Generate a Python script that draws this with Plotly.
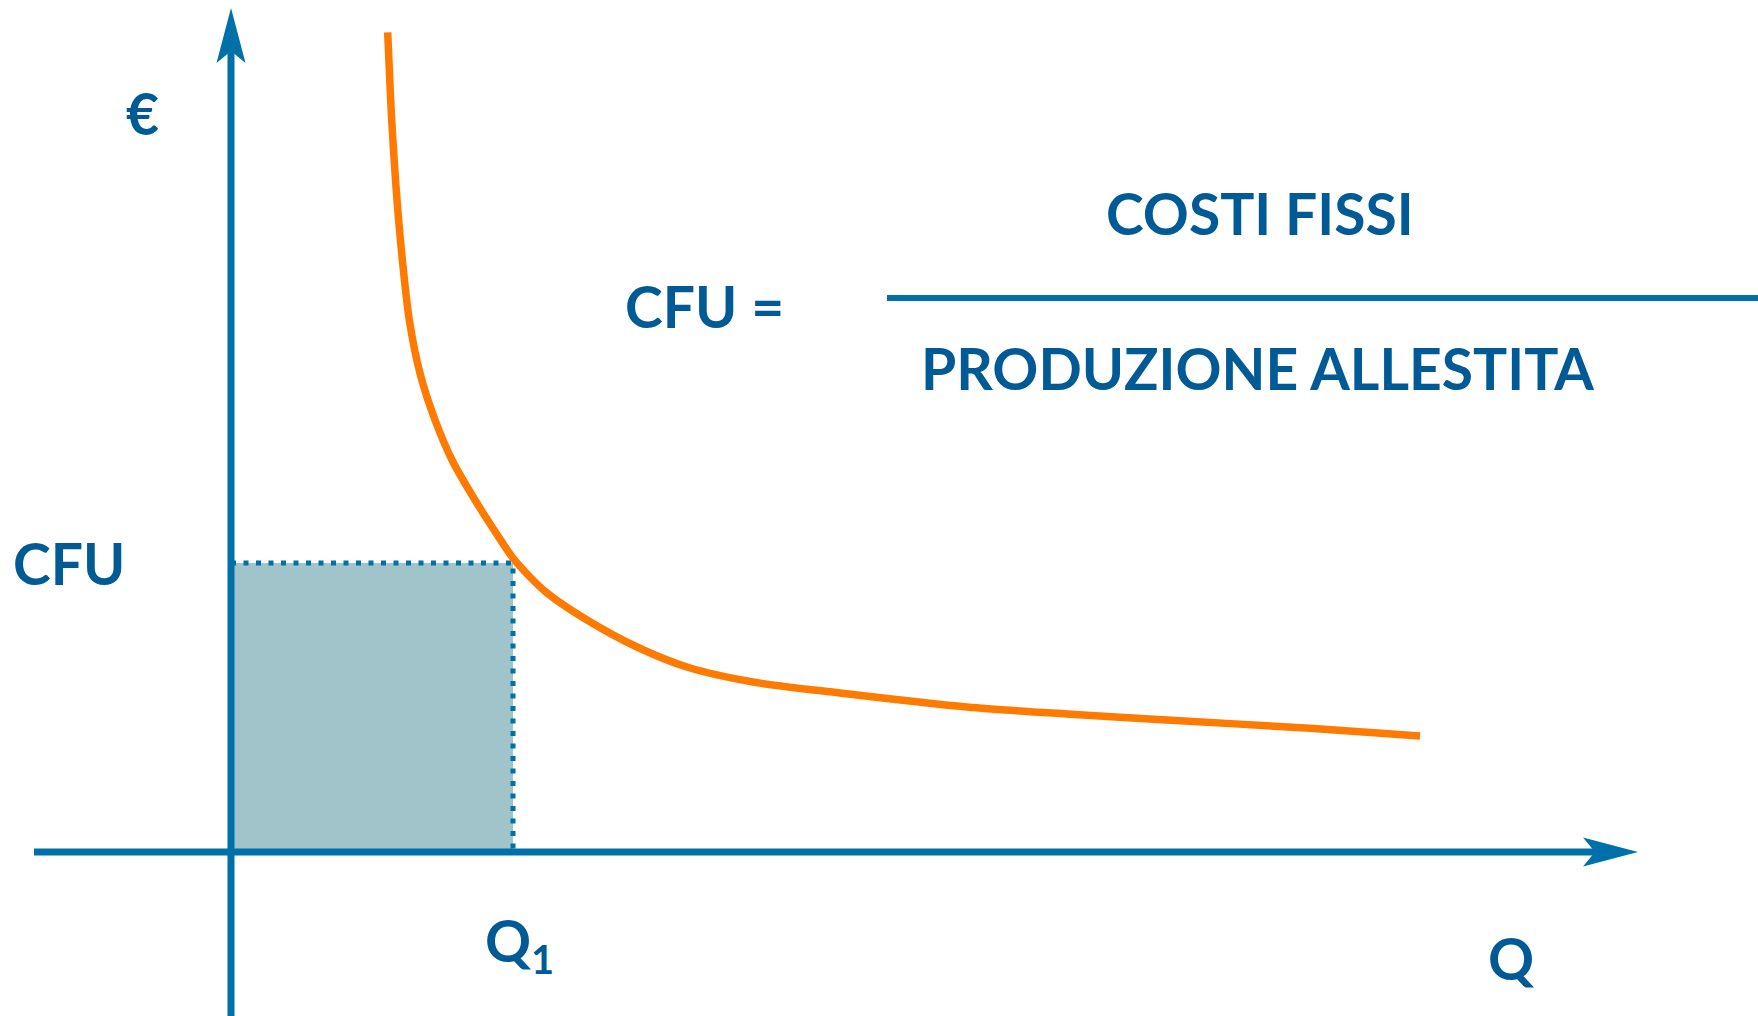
import plotly.graph_objects as go

# ---- data (arbitrary units: origin at axes crossing) ----
q_values = [156.7, 160.7, 165.0, 170.7, 178.3, 189.0, 204.0, 222.0, 244.0, 265.0, 282.0,
            299.0, 316.0, 356.0, 406.0, 456.0, 522.0, 609.0, 736.0, 836.0, 936.0, 1079.0, 1189.0]
cfu_values = [819.7, 732.0, 665.3, 598.7, 532.0, 478.7, 432.0, 390.0, 352.0, 319.0, 294.0,
              275.0, 259.0, 232.0, 205.0, 185.0, 170.0, 159.0, 145.0, 138.0, 132.0, 123.7, 116.0]
Q1 = 282.0
CFU1 = 289.0

axis_labels = {"y": "€", "x": "Q", "q1": "Q<sub>1</sub>", "cfu": "CFU"}
formula_left = "CFU ="
formula_num = "COSTI FISSI"
formula_den = "PRODUZIONE ALLESTITA"

# ---- layout / style ----
W, H = 1758, 1016
X_RANGE = [-231, 1527]
Y_RANGE = [-164, 852]
X_START, X_TIP = -197, 1407
Y_BOTTOM, Y_TIP = -200, 844

AXIS = "#0070A8"
TEXT = "#005A96"
FILL = "#A0C4CA"
CURVE = "#FF7A00"
FONT = "Lato"
FS = 57

fig = go.Figure()

# shaded area CFU x Q1
fig.add_trace(go.Scatter(x=[0, Q1, Q1, 0, 0], y=[0, 0, CFU1, CFU1, 0], fill="toself",
                         fillcolor=FILL, line=dict(width=0), mode="lines", hoverinfo="skip"))
# dotted guide lines
fig.add_trace(go.Scatter(x=[0, Q1, Q1], y=[CFU1, CFU1, 0], mode="lines",
                         line=dict(color=AXIS, width=5, dash="5px,7.5px"), hoverinfo="skip"))
# axes
fig.add_trace(go.Scatter(x=[X_START, X_TIP - 40], y=[0, 0], mode="lines",
                         line=dict(color=AXIS, width=7), hoverinfo="skip"))
fig.add_trace(go.Scatter(x=[0, 0], y=[Y_BOTTOM, Y_TIP - 40], mode="lines",
                         line=dict(color=AXIS, width=7), hoverinfo="skip"))
# cost curve
fig.add_trace(go.Scatter(x=q_values, y=cfu_values, mode="lines",
                         line=dict(color=CURVE, width=7.5, shape="spline", smoothing=0.8),
                         hoverinfo="skip"))

# arrowheads
AL, AW, AN = 55, 14.5, 43
shapes = [
    dict(type="path", xref="x", yref="y",
         path=f"M {X_TIP},0 L {X_TIP-AL},{AW} L {X_TIP-AN},0 L {X_TIP-AL},{-AW} Z",
         fillcolor=AXIS, line=dict(width=0)),
    dict(type="path", xref="x", yref="y",
         path=f"M 0,{Y_TIP} L {-AW},{Y_TIP-AL} L 0,{Y_TIP-AN} L {AW},{Y_TIP-AL} Z",
         fillcolor=AXIS, line=dict(width=0)),
    # fraction bar
    dict(type="line", xref="x", yref="y", x0=656, x1=1600, y0=554, y1=554,
         line=dict(color=AXIS, width=6)),
]

font = dict(family=FONT, size=FS, color=TEXT, weight="bold")
ann = [
    dict(x=-89, y=739, text=axis_labels["y"]),
    dict(x=-162, y=CFU1, text=axis_labels["cfu"]),
    dict(x=Q1, y=-92, text=axis_labels["q1"], xshift=6),
    dict(x=1280, y=-106, text=axis_labels["x"]),
    dict(x=473, y=546, text=formula_left),
    dict(x=1029, y=639, text=formula_num),
    dict(x=1026, y=484, text=formula_den),
]
annotations = [dict(a, xref="x", yref="y", showarrow=False, xanchor="center",
                    yanchor="middle", font=font) for a in ann]

fig.update_layout(width=W, height=H, margin=dict(l=0, r=0, t=0, b=0),
                  paper_bgcolor="white", plot_bgcolor="white", showlegend=False,
                  shapes=shapes, annotations=annotations)
fig.update_xaxes(visible=False, range=X_RANGE, fixedrange=True)
fig.update_yaxes(visible=False, range=Y_RANGE, fixedrange=True)

fig.write_html("out.html", config={"displayModeBar": False},
               post_script="document.body.style.margin='0';document.body.style.overflow='hidden';")
